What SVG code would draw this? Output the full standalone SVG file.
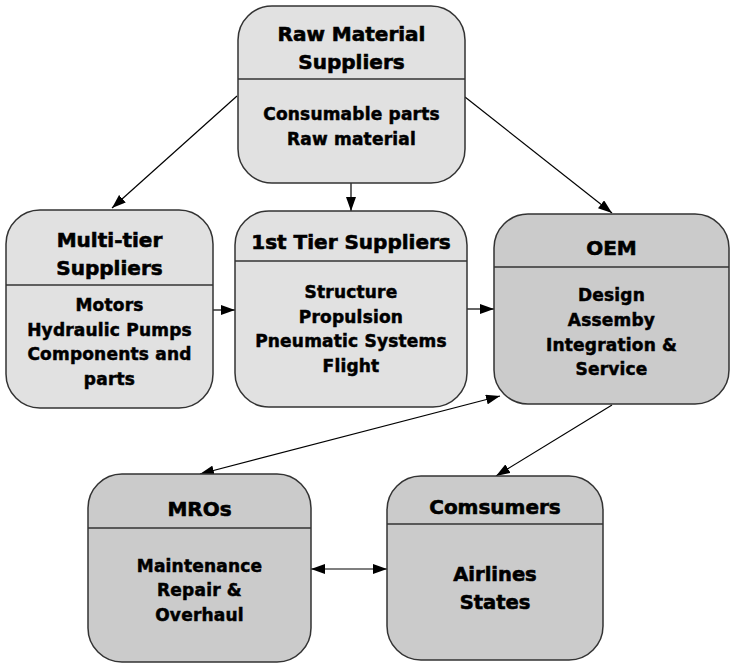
<svg xmlns="http://www.w3.org/2000/svg" width="735" height="667" viewBox="0 0 735 667">
<style>
.box{stroke:#333;stroke-width:1.5}
.light{fill:#e1e1e1}
.dark{fill:#cbcbcb}
.div{stroke:#333;stroke-width:1.3}
.t{font-family:"DejaVu Sans","Liberation Sans",sans-serif;font-weight:bold;font-size:20px;text-anchor:middle;fill:#000;stroke:#000;stroke-width:0.6}
.b{font-family:"DejaVu Sans","Liberation Sans",sans-serif;font-weight:bold;font-size:17px;text-anchor:middle;fill:#000;stroke:#000;stroke-width:0.5;letter-spacing:0.2px}
.c{stroke:#000;stroke-width:1.2;fill:none}
</style>
<defs>
<marker id="ah" viewBox="0 0 14 10" refX="14" refY="5" markerWidth="14" markerHeight="10" markerUnits="userSpaceOnUse" orient="auto-start-reverse">
<path d="M0,0 L14,5 L0,10 z" fill="#000"/>
</marker>
</defs>
<rect width="735" height="667" fill="#fff"/>
<g id="connectors">
<line class="c" x1="237" y1="96" x2="112" y2="208" marker-end="url(#ah)"/>
<line class="c" x1="351" y1="183" x2="351" y2="211" marker-end="url(#ah)"/>
<line class="c" x1="465" y1="97" x2="612" y2="213" marker-end="url(#ah)"/>
<line class="c" x1="213" y1="310" x2="235" y2="310" marker-end="url(#ah)"/>
<line class="c" x1="467" y1="309" x2="494" y2="309" marker-end="url(#ah)"/>
<line class="c" x1="500" y1="396" x2="200" y2="474" marker-start="url(#ah)" marker-end="url(#ah)"/>
<line class="c" x1="612" y1="405" x2="496" y2="476" marker-end="url(#ah)"/>
<line class="c" x1="311" y1="569" x2="387" y2="569" marker-start="url(#ah)" marker-end="url(#ah)"/>
</g>
<g id="raw">
<rect class="box light" x="238" y="6" width="227" height="177" rx="34"/>
<line class="div" x1="238" y1="79" x2="465" y2="79"/>
<text class="t" x="351.5" y="41">Raw Material</text>
<text class="t" x="351.5" y="69">Suppliers</text>
<text class="b" x="351.5" y="120">Consumable parts</text>
<text class="b" x="351.5" y="145">Raw material</text>
</g>
<g id="multitier">
<rect class="box light" x="6" y="210" width="207" height="198" rx="34"/>
<line class="div" x1="6" y1="285" x2="213" y2="285"/>
<text class="t" x="109.5" y="247">Multi-tier</text>
<text class="t" x="109.5" y="275">Suppliers</text>
<text class="b" x="109.5" y="311">Motors</text>
<text class="b" x="109.5" y="336">Hydraulic Pumps</text>
<text class="b" x="109.5" y="360">Components and</text>
<text class="b" x="109.5" y="385">parts</text>
</g>
<g id="tier1">
<rect class="box light" x="235" y="211" width="232" height="196" rx="34"/>
<line class="div" x1="235" y1="261" x2="467" y2="261"/>
<text class="t" x="351" y="249">1st Tier Suppliers</text>
<text class="b" x="351" y="298">Structure</text>
<text class="b" x="351" y="323">Propulsion</text>
<text class="b" x="351" y="347">Pneumatic Systems</text>
<text class="b" x="351" y="372">Flight</text>
</g>
<g id="oem">
<rect class="box dark" x="494" y="214" width="235" height="190" rx="34"/>
<line class="div" x1="494" y1="267" x2="729" y2="267"/>
<text class="t" x="611.5" y="255">OEM</text>
<text class="b" x="611.5" y="301">Design</text>
<text class="b" x="611.5" y="326">Assemby</text>
<text class="b" x="611.5" y="351">Integration &amp;</text>
<text class="b" x="611.5" y="375">Service</text>
</g>
<g id="mros">
<rect class="box dark" x="88" y="474" width="223" height="188" rx="34"/>
<line class="div" x1="88" y1="528" x2="311" y2="528"/>
<text class="t" x="199.5" y="516">MROs</text>
<text class="b" x="199.5" y="572">Maintenance</text>
<text class="b" x="199.5" y="596">Repair &amp;</text>
<text class="b" x="199.5" y="621">Overhaul</text>
</g>
<g id="consumers">
<rect class="box dark" x="387" y="476" width="216" height="184" rx="34"/>
<line class="div" x1="387" y1="524" x2="603" y2="524"/>
<text class="t" x="495" y="514">Comsumers</text>
<text class="t" x="495" y="581" style="font-size:19.5px">Airlines</text>
<text class="t" x="495" y="609" style="font-size:19.5px">States</text>
</g>
</svg>
